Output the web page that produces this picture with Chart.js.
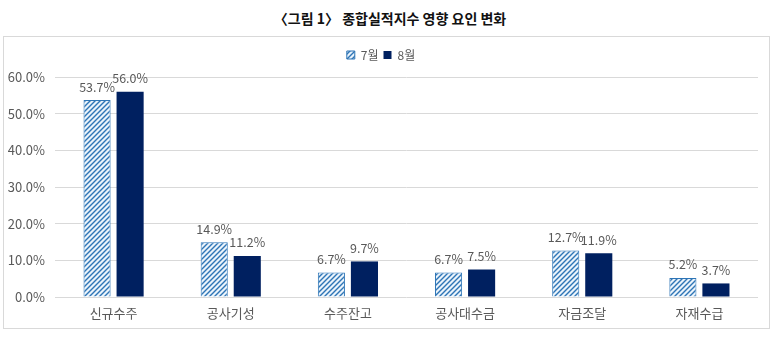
<!DOCTYPE html>
<html>
<head>
<meta charset="utf-8">
<script src="https://cdn.jsdelivr.net/npm/chart.js@4.4.1/dist/chart.umd.min.js"></script>
<style>
  html, body { margin: 0; padding: 0; background: #fff; }
  body { width: 780px; height: 337px; position: relative; overflow: hidden; }
  #title {
    position: absolute; left: 0; top: 8px; width: 780px; text-align: center;
    font-family: "Noto Sans CJK KR", "Noto Sans", sans-serif;
    font-weight: bold; font-size: 14px; color: #111;
  }
  #frame {
    position: absolute; left: 3px; top: 36px; width: 765px; height: 291px;
    border: 1px solid #d9d9d9;
  }
</style>
</head>
<body>
<div id="title">〈그림 1〉 종합실적지수 영향 요인 변화</div>
<div id="frame"><canvas id="chart"></canvas></div>
<script>
/* ---------- data ---------- */
const categories = ["신규수주", "공사기성", "수주잔고", "공사대수금", "자금조달", "자재수급"];
const seriesNames = ["7월", "8월"];
const july = [53.7, 14.9, 6.7, 6.7, 12.7, 5.2];
const august = [56.0, 11.2, 9.7, 7.5, 11.9, 3.7];
const yTicks = [0, 10, 20, 30, 40, 50, 60];

const FONT = '"Noto Sans CJK KR", "Liberation Sans", sans-serif';
const GREY = "#595959";

/* striped fill for 7월 */
function stripePattern() {
  const s = 5;
  const c = document.createElement("canvas");
  c.width = s; c.height = s;
  const g = c.getContext("2d");
  g.fillStyle = "#eaf3fb";
  g.fillRect(0, 0, s, s);
  g.strokeStyle = "#2e75b6";
  g.lineWidth = 1.4;
  g.beginPath();
  g.moveTo(0, s); g.lineTo(s, 0);
  g.moveTo(-1, 1); g.lineTo(1, -1);
  g.moveTo(s - 1, s + 1); g.lineTo(s + 1, s - 1);
  g.stroke();
  return g.createPattern(c, "repeat");
}

/* value labels above bars */
const valueLabels = {
  id: "valueLabels",
  afterDatasetsDraw(chart) {
    const ctx = chart.ctx;
    ctx.save();
    ctx.font = "12.5px " + FONT;
    ctx.fillStyle = GREY;
    ctx.textAlign = "center";
    ctx.textBaseline = "bottom";
    chart.data.datasets.forEach((ds, i) => {
      chart.getDatasetMeta(i).data.forEach((bar, j) => {
        ctx.fillText(ds.data[j].toFixed(1) + "%", bar.x, bar.y - 7);
      });
    });
    ctx.restore();
  }
};

/* extra gap under the legend */
const legendGap = {
  id: "legendGap",
  afterInit(chart) {
    const lg = chart.legend;
    if (!lg) return;
    const fit = lg.fit;
    lg.fit = function () {
      fit.call(this);
      this.height += 6;
    };
  }
};

const ctx = document.getElementById("chart").getContext("2d");
new Chart(ctx, {
  type: "bar",
  data: {
    labels: categories,
    datasets: [
      {
        label: seriesNames[0],
        data: july,
        backgroundColor: stripePattern(),
        borderColor: "#2e75b6",
        borderWidth: 1
      },
      {
        label: seriesNames[1],
        data: august,
        backgroundColor: "#002060",
        borderColor: "#002060",
        borderWidth: 0
      }
    ]
  },
  options: {
    responsive: true,
    maintainAspectRatio: false,
    animation: false,
    categoryPercentage: 0.564,
    barPercentage: 0.82,
    layout: { padding: { top: 7, right: 11, bottom: 0, left: 0 } },
    plugins: {
      legend: {
        position: "top",
        labels: {
          boxWidth: 8, boxHeight: 8, padding: 5,
          color: GREY,
          font: { family: FONT, size: 12 }
        }
      },
      tooltip: { enabled: false }
    },
    scales: {
      x: {
        grid: { display: false, drawTicks: false },
        border: { display: false },
        ticks: { color: GREY, font: { family: FONT, size: 13 }, padding: 8 },
        afterFit(axis) { axis.height = 31; }
      },
      y: {
        min: 0, max: 60,
        afterBuildTicks(axis) { axis.ticks = yTicks.map(v => ({ value: v })); },
        grid: { color: "#d9d9d9", lineWidth: 1, drawTicks: false },
        border: { display: false },
        ticks: {
          color: GREY, padding: 10,
          font: { family: FONT, size: 13 },
          callback: v => v.toFixed(1) + "%"
        },
        afterFit(axis) { axis.width = 51; }
      }
    }
  },
  plugins: [valueLabels, legendGap]
});
</script>
</body>
</html>
